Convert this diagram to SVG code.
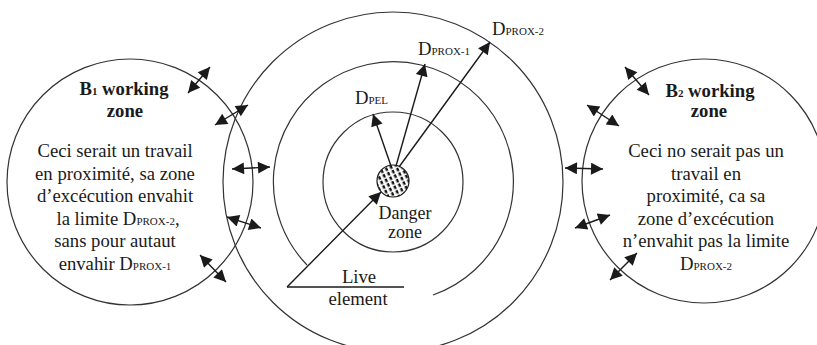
<svg xmlns="http://www.w3.org/2000/svg" width="817" height="345" viewBox="0 0 817 345">
<style>
.c{fill:none;stroke:#333;stroke-width:1.2}
.t{font-family:"Liberation Serif","Times New Roman",serif;font-size:18.7px;fill:#1a1a1a;text-anchor:middle}
.b{font-weight:bold}
.s{font-size:11px}
.l{text-anchor:start}
.a{fill:none;stroke:#1a1a1a;stroke-width:1.4}
</style>
<defs>
<marker id="ah" viewBox="0 0 10 10" refX="10" refY="5" markerUnits="userSpaceOnUse" markerWidth="14" markerHeight="12" orient="auto-start-reverse">
<path d="M0,0 L10,5 L0,10 z" fill="#1a1a1a"/>
</marker>
<pattern id="hatch" width="5" height="5" patternUnits="userSpaceOnUse" patternTransform="rotate(65)">
<rect width="5" height="5" fill="#fff"/>
<rect x="0" y="0" width="3.5" height="2.4" fill="#111"/>
</pattern>
</defs>
<rect width="817" height="345" fill="#fff"/>

<g id="limits">
<circle class="c" cx="393" cy="182" r="170"/>
<path class="c" d="M 433 295 A 120 120 0 1 0 307 265"/>
<circle class="c" cx="393" cy="182" r="70"/>
</g>

<g id="danger-zone">
<circle cx="393" cy="181" r="16" fill="url(#hatch)" stroke="#1a1a1a" stroke-width="1.2"/>
<text class="t" x="405" y="219" style="font-size:18px">Danger</text>
<text class="t" x="405" y="238" style="font-size:18px">zone</text>
</g>

<g id="live-element">
<line class="a" x1="287" y1="287" x2="404" y2="287"/>
<text class="t" x="359" y="283">Live</text>
<text class="t" x="358" y="305">element</text>
</g>

<g id="b1-zone">
<circle class="c" cx="130" cy="182" r="123"/>
<text class="t b" x="124" y="95">B<tspan class="s">1</tspan> working</text>
<text class="t b" x="125" y="117">zone</text>
<text class="t" x="115" y="157">Ceci serait un travail</text>
<text class="t" x="115" y="179.6">en proximité, sa zone</text>
<text class="t" x="115" y="202.2">d’excécution envahit</text>
<text class="t" x="118" y="224.8">la limite D<tspan class="s">PROX-2</tspan>,</text>
<text class="t" x="115" y="247.4">sans pour autaut</text>
<text class="t" x="115" y="270">envahir D<tspan class="s">PROX-1</tspan></text>
</g>

<g id="b2-zone">
<circle class="c" cx="704" cy="181" r="122"/>
<text class="t b" x="710" y="97">B<tspan class="s">2</tspan> working</text>
<text class="t b" x="709" y="117">zone</text>
<text class="t" x="706" y="157">Ceci no serait pas un</text>
<text class="t" x="706" y="179.6">travail en</text>
<text class="t" x="706" y="202.2">proximité, ca sa</text>
<text class="t" x="706" y="224.8">zone d’excécution</text>
<text class="t" x="706" y="247.4">n’envahit pas la limite</text>
<text class="t" x="706" y="270">D<tspan class="s">PROX-2</tspan></text>
</g>

<g id="labels">
<text class="t l" x="355" y="104">D<tspan class="s">PEL</tspan></text>
<text class="t l" x="418" y="55">D<tspan class="s">PROX-1</tspan></text>
<text class="t l" x="492" y="35">D<tspan class="s">PROX-2</tspan></text>
</g>

<g id="connectors">
<line class="a" x1="391" y1="166" x2="373" y2="114" marker-end="url(#ah)"/>
<line class="a" x1="396" y1="166" x2="425" y2="64" marker-end="url(#ah)"/>
<line class="a" x1="399" y1="167" x2="490" y2="42" marker-end="url(#ah)"/>
<line class="a" x1="287" y1="287" x2="381" y2="192" marker-end="url(#ah)"/>

<line class="a" x1="188" y1="93" x2="210" y2="67" marker-start="url(#ah)" marker-end="url(#ah)"/>
<line class="a" x1="215" y1="125" x2="248" y2="105" marker-start="url(#ah)" marker-end="url(#ah)"/>
<line class="a" x1="232" y1="169" x2="270" y2="167" marker-start="url(#ah)" marker-end="url(#ah)"/>
<line class="a" x1="227" y1="217" x2="261" y2="228" marker-start="url(#ah)" marker-end="url(#ah)"/>
<line class="a" x1="200" y1="255" x2="226" y2="282" marker-start="url(#ah)" marker-end="url(#ah)"/>

<line class="a" x1="625" y1="67" x2="649" y2="95" marker-start="url(#ah)" marker-end="url(#ah)"/>
<line class="a" x1="587" y1="105" x2="619" y2="126" marker-start="url(#ah)" marker-end="url(#ah)"/>
<line class="a" x1="565" y1="168" x2="603" y2="169" marker-start="url(#ah)" marker-end="url(#ah)"/>
<line class="a" x1="575" y1="228" x2="610" y2="215" marker-start="url(#ah)" marker-end="url(#ah)"/>
<line class="a" x1="610" y1="280" x2="637" y2="253" marker-start="url(#ah)" marker-end="url(#ah)"/>
</g>
</svg>
